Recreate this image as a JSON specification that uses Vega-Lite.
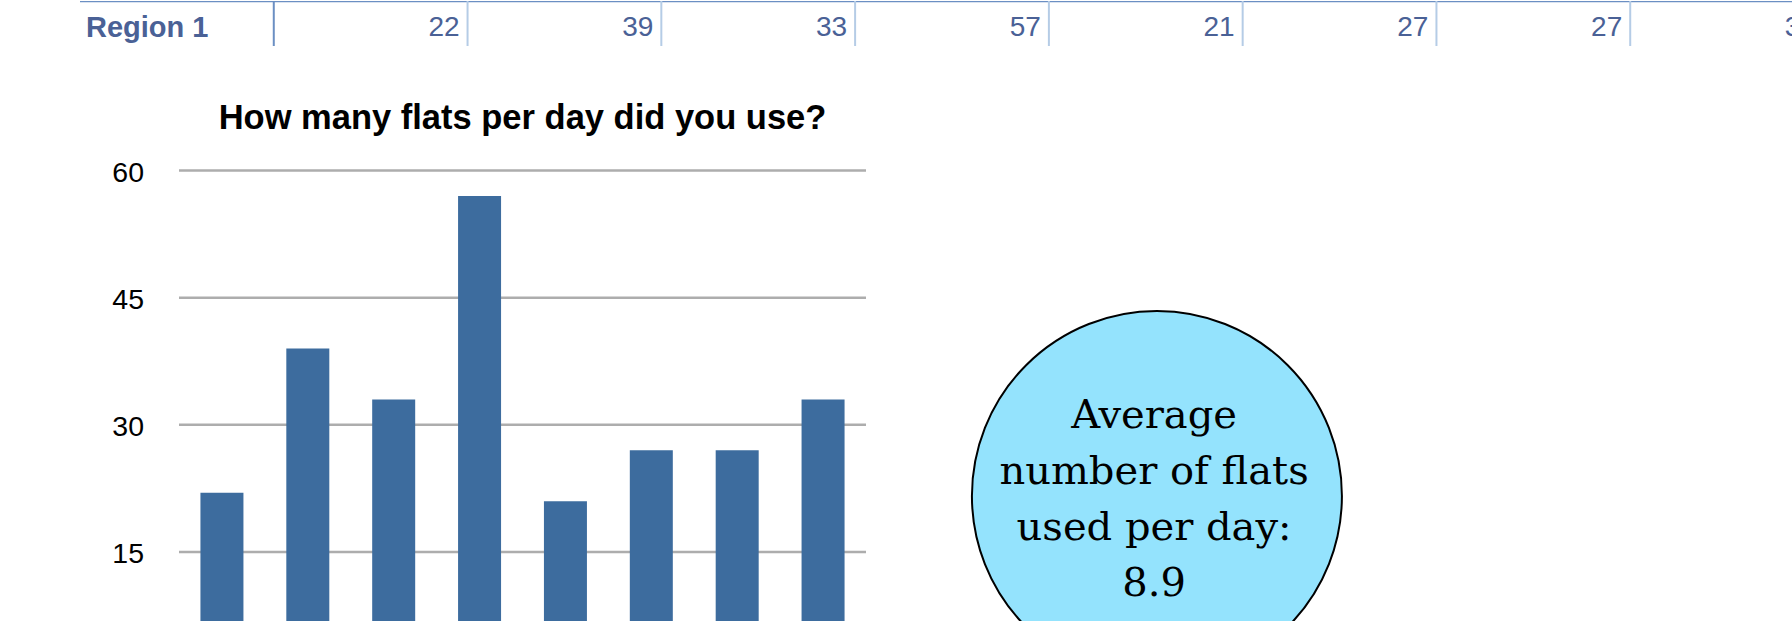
{
  "$schema": "https://vega.github.io/schema/vega-lite/v6.json",
  "width": 1792,
  "height": 621,
  "autosize": {"type": "fit", "contains": "padding"},
  "padding": 0,
  "background": "white",
  "config": {"view": {"stroke": null}},
  "datasets": {
    "days": [
      {"day": 1, "flats": 22},
      {"day": 2, "flats": 39},
      {"day": 3, "flats": 33},
      {"day": 4, "flats": 57},
      {"day": 5, "flats": 21},
      {"day": 6, "flats": 27},
      {"day": 7, "flats": 27},
      {"day": 8, "flats": 33}
    ],
    "gridValues": [{"v": 15}, {"v": 30}, {"v": 45}, {"v": 60}],
    "table": [{"row": "Region 1"}],
    "summary": [{"label": "Average\nnumber of flats\nused per day:\n8.9"}]
  },
  "resolve": {"scale": {"x": "independent", "y": "independent"}},
  "layer": [
    {
      "layer": [
        {
          "data": {"name": "table"},
          "mark": {"type": "rule", "color": "#6b8fc3", "strokeWidth": 2.5, "clip": true},
          "encoding": {
            "x": {"datum": -1, "type": "quantitative", "scale": {"domain": [-1, 8], "range": [80, 1824], "nice": false, "zero": false, "padding": 0}, "axis": null},
            "x2": {"datum": 8},
            "y": {"datum": 0, "type": "quantitative", "scale": {"domain": [0, 1], "range": [0, 50], "nice": false, "zero": false, "padding": 0}, "axis": null}
          }
        },
        {
          "data": {"name": "table"},
          "mark": {"type": "rule", "color": "#6b8fc3", "strokeWidth": 2},
          "encoding": {
            "x": {"datum": 0, "type": "quantitative", "axis": null},
            "y": {"datum": 0, "type": "quantitative", "axis": null},
            "y2": {"datum": 0.9}
          }
        },
        {
          "data": {"name": "days"},
          "mark": {"type": "rule", "color": "#b5cce6", "strokeWidth": 2, "clip": true},
          "encoding": {
            "x": {"field": "day", "type": "quantitative", "axis": null},
            "y": {"datum": 0, "type": "quantitative", "axis": null},
            "y2": {"datum": 0.9}
          }
        },
        {
          "data": {"name": "table"},
          "mark": {"type": "text", "align": "left", "baseline": "middle", "dx": 6, "font": "Liberation Sans", "fontWeight": "bold", "fontSize": 29, "color": "#4a6196"},
          "encoding": {
            "x": {"datum": -1, "type": "quantitative", "axis": null},
            "y": {"datum": 0.53, "type": "quantitative", "axis": null},
            "text": {"field": "row", "type": "nominal"}
          }
        },
        {
          "data": {"name": "days"},
          "mark": {"type": "text", "align": "right", "baseline": "middle", "dx": -8, "font": "Liberation Sans", "fontSize": 28, "color": "#4a6196", "clip": true},
          "encoding": {
            "x": {"field": "day", "type": "quantitative", "axis": null},
            "y": {"datum": 0.53, "type": "quantitative", "axis": null},
            "text": {"field": "flats", "type": "quantitative"}
          }
        }
      ]
    },
    {
      "layer": [
        {
          "data": {"name": "gridValues"},
          "mark": {"type": "rule", "color": "#adadad", "strokeWidth": 2.5},
          "encoding": {
            "x": {"datum": 0.5, "type": "quantitative", "scale": {"domain": [0.5, 8.5], "range": [179, 866], "nice": false, "zero": false, "padding": 0}, "axis": null},
            "x2": {"datum": 8.5},
            "y": {
              "field": "v", "type": "quantitative",
              "scale": {"domain": [0, 60], "range": [678.2, 169.5], "nice": false, "zero": false, "padding": 0},
              "axis": null
            }
          }
        },
        {
          "data": {"name": "gridValues"},
          "mark": {"type": "text", "align": "right", "baseline": "middle", "dx": -35, "dy": 2, "font": "Liberation Sans", "fontSize": 28.5, "color": "#000000"},
          "encoding": {
            "x": {"datum": 0.5, "type": "quantitative", "axis": null},
            "y": {"field": "v", "type": "quantitative", "axis": null},
            "text": {"field": "v", "type": "quantitative"}
          }
        },
        {
          "data": {"name": "days"},
          "mark": {"type": "bar", "size": 43, "color": "#3d6c9e", "clip": true},
          "encoding": {
            "x": {"field": "day", "type": "quantitative", "axis": null},
            "y": {"field": "flats", "type": "quantitative", "axis": null}
          }
        },
        {
          "data": {"name": "table"},
          "mark": {"type": "text", "align": "center", "baseline": "middle", "font": "Liberation Sans", "fontWeight": "bold", "fontSize": 34.5, "color": "#000000"},
          "encoding": {
            "x": {"datum": 4.5, "type": "quantitative", "axis": null},
            "y": {"datum": 66.1, "type": "quantitative", "axis": null},
            "text": {"value": "How many flats per day did you use?"}
          }
        }
      ]
    },
    {
      "layer": [
        {
          "data": {"name": "summary"},
          "mark": {"type": "point", "shape": "circle", "size": 136900, "filled": true, "fill": "#94e3fd", "stroke": "#000000", "strokeWidth": 2, "opacity": 1, "fillOpacity": 1, "strokeOpacity": 1, "clip": true},
          "encoding": {
            "x": {"datum": 0.6456, "type": "quantitative", "scale": {"domain": [0, 1], "range": [0, 1792], "nice": false, "zero": false, "padding": 0}, "axis": null},
            "y": {"datum": 0.7971, "type": "quantitative", "scale": {"domain": [0, 1], "range": [0, 621], "nice": false, "zero": false, "padding": 0}, "axis": null}
          }
        },
        {
          "data": {"name": "summary"},
          "mark": {"type": "text", "align": "center", "baseline": "alphabetic", "lineBreak": "\n", "lineHeight": 56, "font": "DejaVu Serif", "fontSize": 40, "color": "#000000"},
          "encoding": {
            "x": {"datum": 0.644, "type": "quantitative", "axis": null},
            "y": {"datum": 0.6876, "type": "quantitative", "axis": null},
            "text": {"field": "label", "type": "nominal"}
          }
        }
      ]
    }
  ]
}
